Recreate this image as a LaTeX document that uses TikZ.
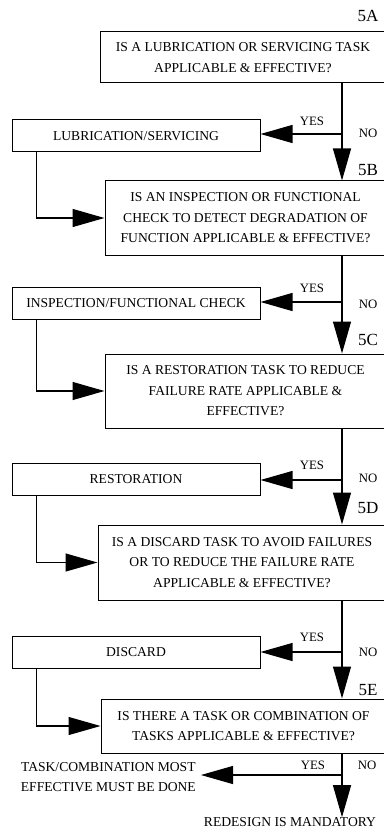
\documentclass[tikz,border=0pt]{standalone}
\usepackage{fontspec}
\setmainfont{Liberation Serif}
\usetikzlibrary{arrows.meta}
\tikzset{
  question/.style={draw, line width=1pt, align=center, inner sep=0pt, font=\fontsize{13.6}{20.5}\selectfont},
  task/.style={draw, line width=1pt, minimum width=248pt, minimum height=32pt, inner sep=0pt, font=\fontsize{13.6}{16}\selectfont},
  arr/.style={line width=1.1pt, -{Triangle[length=32pt,width=18pt]}},
  answer/.style={font=\fontsize{12.8}{15}\selectfont, inner sep=0pt},
  stepno/.style={font=\fontsize{17}{20}\selectfont, inner sep=0pt},
}
\begin{document}
\begin{tikzpicture}[x=1pt,y=-1pt]
\useasboundingbox (0,0) rectangle (383,829);
\pgfmathsetmacro{\mainx}{342}
% question boxes
\node[question, minimum width=286pt, minimum height=51pt] (qA) at (243,57.5) {IS A LUBRICATION OR SERVICING TASK\\APPLICABLE \& EFFECTIVE?};
\node[question, minimum width=281pt, minimum height=74pt] (qB) at (245.5,218) {IS AN INSPECTION OR FUNCTIONAL\\CHECK TO DETECT DEGRADATION OF\\FUNCTION APPLICABLE \& EFFECTIVE?};
\node[question, minimum width=281pt, minimum height=74pt] (qC) at (245.5,391) {IS A RESTORATION TASK TO REDUCE\\FAILURE RATE APPLICABLE \&\\EFFECTIVE?};
\node[question, minimum width=288pt, minimum height=75pt] (qD) at (242,562.5) {IS A DISCARD TASK TO AVOID FAILURES\\OR TO REDUCE THE FAILURE RATE\\APPLICABLE \& EFFECTIVE?};
\node[question, minimum width=285pt, minimum height=54pt] (qE) at (243.5,726) {IS THERE A TASK OR COMBINATION OF\\TASKS APPLICABLE \& EFFECTIVE?};
% task boxes
\node[task] (lub) at (136,136) {LUBRICATION/SERVICING};
\node[task] (insp) at (136,303) {INSPECTION/FUNCTIONAL CHECK};
\node[task] (rest) at (136,479) {RESTORATION};
\node[task] (disc) at (136,652) {DISCARD};
\node[align=center, inner xsep=5pt, inner ysep=0pt, anchor=east, font=\fontsize{13.6}{20}\selectfont] (done) at (201,777) {TASK/COMBINATION MOST\\EFFECTIVE MUST BE DONE};
\node[inner sep=0pt, font=\fontsize{13.6}{16}\selectfont] (redesign) at (290,822) {REDESIGN IS MANDATORY};
% step numbers
\node[stepno] (sA) at (368,16) {5A};
\node[stepno] (sB) at (368,170) {5B};
\node[stepno] (sC) at (368,340) {5C};
\node[stepno] (sD) at (368,508) {5D};
\node[stepno] (sE) at (368,690) {5E};
% junctions on the main line
\coordinate (jA) at (\mainx,134);
\coordinate (jB) at (\mainx,302);
\coordinate (jC) at (\mainx,480);
\coordinate (jD) at (\mainx,652);
\coordinate (jE) at (\mainx,775);
% NO path
\draw[arr] (jA |- qA.south) -- (jA |- qB.north);
\draw[arr] (jB |- qB.south) -- (jB |- qC.north);
\draw[arr] (jC |- qC.south) -- (jC |- qD.north);
\draw[arr] (jD |- qD.south) -- (jD |- qE.north);
\draw[arr] (jE |- qE.south) -- (jE |- redesign.north);
% YES path
\draw[arr] (jA) -- (jA -| lub.east);
\draw[arr] (jB) -- (jB -| insp.east);
\draw[arr] (jC) -- (jC -| rest.east);
\draw[arr] (jD) -- (jD -| disc.east);
\draw[arr] (jE) -- (jE -| done.east);
% back to the next question
\draw[arr] ([xshift=25pt]lub.south west) |- (qB.west);
\draw[arr] ([xshift=25pt]insp.south west) |- (qC.west);
\draw[arr] ([xshift=25pt]rest.south west) |- (qD.west);
\draw[arr] ([xshift=25pt]disc.south west) |- (qE.west);
% answers
\node[answer] (yA) at (312,121) {YES};
\node[answer] (nA) at (368,133) {NO};
\node[answer] (yB) at (312,288) {YES};
\node[answer] (nB) at (368,304) {NO};
\node[answer] (yC) at (312,465) {YES};
\node[answer] (nC) at (368,478) {NO};
\node[answer] (yD) at (312,637) {YES};
\node[answer] (nD) at (368,652) {NO};
\node[answer] (yE) at (313,765) {YES};
\node[answer] (nE) at (367,765) {NO};
\end{tikzpicture}
\end{document}
